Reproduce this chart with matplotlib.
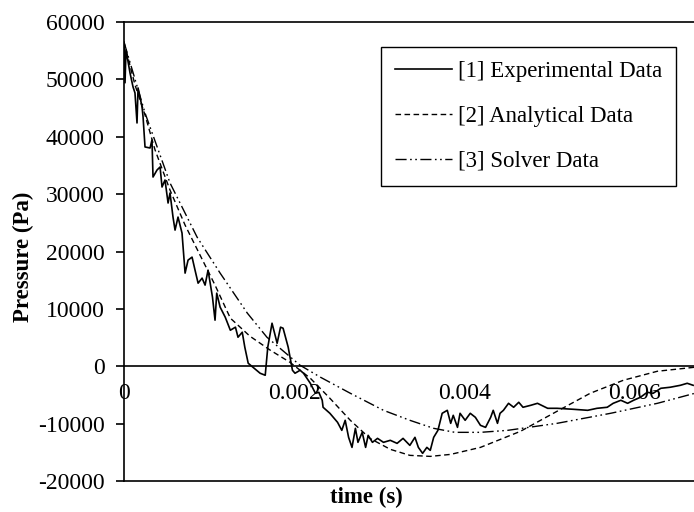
import matplotlib
matplotlib.use("Agg")
import matplotlib.pyplot as plt

plt.rcParams['font.family'] = ['Liberation Serif', 'DejaVu Serif']

# ---- data ----
exp_t = [0, 0.000012, 0.0000235, 0.0000706, 0.000106, 0.000129, 0.000153, 0.000165, 0.000188,
         0.000212, 0.000224, 0.000247, 0.000306, 0.000329, 0.000341, 0.000388, 0.000424, 0.000447,
         0.000482, 0.000518, 0.000541, 0.000576, 0.0006, 0.000635, 0.000682, 0.000718, 0.000753,
         0.0008, 0.000835, 0.000871, 0.000918, 0.000953, 0.000988, 0.00104, 0.00107, 0.00109,
         0.00113, 0.00119, 0.00125, 0.00131, 0.00134, 0.00139, 0.00142, 0.00146, 0.00153, 0.0016,
         0.00166, 0.00169, 0.00174, 0.00180, 0.00184, 0.00187, 0.00193, 0.00198, 0.00201, 0.00207,
         0.00211, 0.00219, 0.00225, 0.00229, 0.00233, 0.00234, 0.00242, 0.00251, 0.00256, 0.0026,
         0.00264, 0.00268, 0.00272, 0.00275, 0.0028, 0.00284, 0.00287, 0.00292, 0.00298, 0.00305,
         0.00313, 0.00321, 0.00328, 0.00336, 0.00342, 0.00346, 0.00351, 0.00356, 0.0036, 0.00364,
         0.00369, 0.00374, 0.0038, 0.00384, 0.00387, 0.00392, 0.00395, 0.00401, 0.00407, 0.00413,
         0.00419, 0.00425, 0.00431, 0.00434, 0.00439, 0.00442, 0.00446, 0.00452, 0.00458, 0.00464,
         0.00469, 0.00478, 0.00486, 0.00498, 0.00509, 0.00528, 0.00545, 0.00556, 0.00568, 0.00575,
         0.00584, 0.00592, 0.00599, 0.00607, 0.00615, 0.00622, 0.00631, 0.00642, 0.00654, 0.00662,
         0.00669]
exp_p = [56500, 49400, 55150, 51130, 48690, 47640, 42400, 48510, 46940,
         45200, 43450, 38220, 38040, 39440, 32980, 34200, 34730, 31240,
         32460, 28450, 30190, 26000, 23730, 26000, 23210, 16230, 18500,
         19020, 16750, 14480, 15360, 14140, 16750, 12040, 8030, 12740,
         10300, 8550, 6280, 6810, 5060, 5930, 3320, 520, -350, -1220,
         -1570, 3320, 7500, 4010, 6810, 6630, 3320, -700, -1220, -700,
         -1220, -2970, -4710, -4540, -5930, -7150, -8200, -9770, -11170, -9420,
         -12390, -14140, -10820, -13260, -11520, -14140, -12040, -13260, -12570, -13260,
         -12910, -13440, -12570, -13790, -12390, -14140, -15180, -14140, -14660, -12390,
         -11170, -8200, -7680, -9950, -8550, -10650, -8200, -9420, -8200, -8900,
         -10300, -10650, -8900, -7680, -9950, -8200, -7680, -6460, -7150, -6280,
         -7150, -6810, -6460, -7330, -7330, -7500, -7680, -7330, -7150, -6460,
         -5930, -6460, -5930, -5410, -4540, -4710, -3840, -3660, -3320, -2970,
         -3320]

ana_t = [0, 0.000129, 0.000247, 0.000365, 0.000541, 0.000718, 0.000894, 0.00107, 0.00125,
         0.00148, 0.00172, 0.00195, 0.00219, 0.00242, 0.00266, 0.00289, 0.00313, 0.00336,
         0.0036, 0.00384, 0.00419, 0.00466, 0.00509, 0.00548, 0.00587, 0.00627, 0.00671]
ana_p = [56500, 49040, 43800, 37700, 30700, 24600, 19370, 14140, 8380,
         5240, 2790, 700, -2090, -5580, -9420, -12570, -14480, -15530,
         -15710, -15360, -14140, -11340, -7850, -4710, -2440, -870, -170]

sol_t = [0, 0.000247, 0.000541, 0.000859, 0.00113, 0.00145, 0.00168, 0.00207, 0.00231,
         0.00266, 0.00305, 0.00336, 0.00364, 0.00389, 0.00419, 0.00451, 0.00509, 0.00572,
         0.00627, 0.00671]
sol_p = [56500, 44150, 31940, 22510, 16230, 9250, 5060, 170, -1920,
         -4710, -7680, -9420, -10820, -11520, -11520, -11170, -9950, -8200,
         -6460, -4710]

labels = ['[1] Experimental Data', '[2] Analytical Data', '[3] Solver Data']
x_ticks = [0, 0.002, 0.004, 0.006]
x_tick_labels = ['0', '0.002', '0.004', '0.006']
y_ticks = [-20000, -10000, 0, 10000, 20000, 30000, 40000, 50000, 60000]

# ---- figure ----
fig = plt.figure(figsize=(6.94, 5.12), dpi=100)
ax = fig.add_axes([124/694, 1-481/512, 1-124/694, (481-22)/512])

ax.plot(exp_t, exp_p, color='black', lw=1.2, ls='-', label=labels[0])
ax.plot(ana_t, ana_p, color='black', lw=1.0, ls=(0, (4, 2.5)), label=labels[1])
ax.plot(sol_t, sol_p, color='black', lw=1.0, ls=(0, (8, 2.5, 1.2, 2.5, 1.2, 2.5)), label=labels[2])

ax.set_xlim(0, 0.0067)
ax.set_ylim(-20000, 60000)

# x axis drawn through zero
ax.spines['bottom'].set_position(('data', 0))
ax.spines['right'].set_visible(False)
for s in ['top', 'left', 'bottom']:
    ax.spines[s].set_linewidth(1.2)
    ax.spines[s].set_color('black')
# lower boundary line at -20000
ax.plot([0, 1], [0, 0], transform=ax.transAxes, color='black', lw=1.2, clip_on=False)

ax.set_xticks(x_ticks)
ax.set_xticklabels(x_tick_labels)
ax.tick_params(axis='x', length=0, pad=12, labelsize=17)
ax.set_yticks(y_ticks)
ax.set_yticklabels([str(v) for v in y_ticks])
ax.tick_params(axis='y', direction='out', length=6, width=1.2, pad=8, labelsize=17)

ax.set_xlabel('time (s)', fontsize=16.5, fontweight='bold')
ax.xaxis.set_label_coords(0.426, -0.035)
ax.xaxis.label.set_verticalalignment('center')
ax.set_ylabel('Pressure (Pa)', fontsize=16.5, fontweight='bold')
ax.yaxis.set_label_coords(-0.177, 0.488)
ax.yaxis.label.set_verticalalignment('center')

leg = ax.legend(loc='upper right', bbox_to_anchor=((676-124)/570, (481-47)/459),
                fontsize=16.5, frameon=True, fancybox=False, edgecolor='black',
                handlelength=2.5, handletextpad=0.25, labelspacing=1.05, borderpad=0.6,
                borderaxespad=0)
leg.get_frame().set_linewidth(1.0)
leg.get_frame().set_alpha(1)

fig.savefig('out.png', dpi=100)
